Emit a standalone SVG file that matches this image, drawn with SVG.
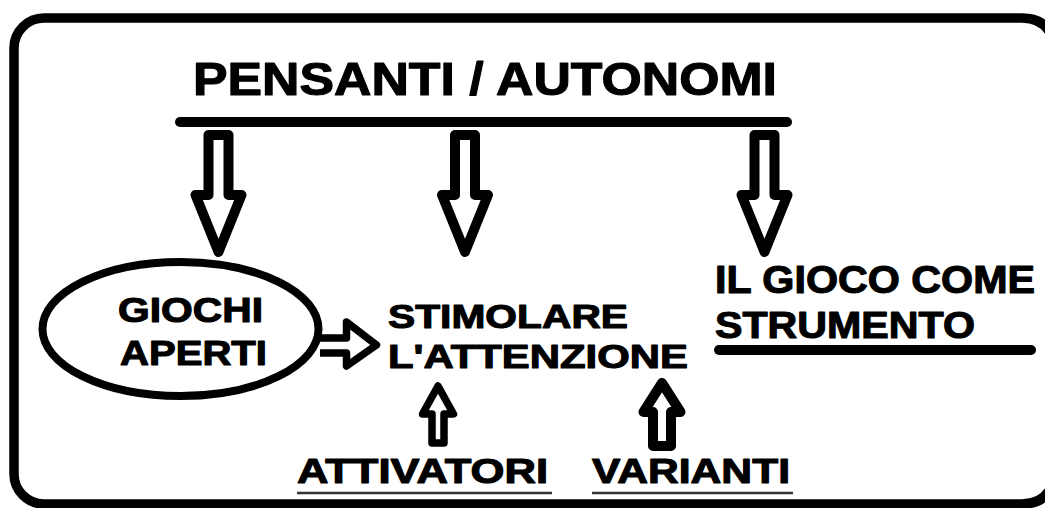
<svg xmlns="http://www.w3.org/2000/svg" width="1045" height="508" viewBox="0 0 1045 508">
<style>
.t{font-family:"Liberation Sans",Arial,sans-serif;font-weight:bold;fill:#000;stroke:#000;stroke-width:1.1;stroke-linejoin:round}
.bar{stroke:#000;stroke-width:10;stroke-linecap:round;fill:none}
.ha{fill:#fff;stroke:#000;stroke-width:10;stroke-linejoin:round}
.sa{fill:#fff;stroke:#000;stroke-width:7.5;stroke-linejoin:round}
.ul{stroke:#333;stroke-width:2.5}
</style>
<rect x="0" y="0" width="1045" height="508" fill="#fff"/>
<path d="M44,18 L1022,18 Q1054,18 1056,56 L1056,466 Q1054,504 1022,504 L44,504 A30,30 0 0 1 14,474 L14,48 A30,30 0 0 1 44,18 Z" fill="#fff" stroke="#000" stroke-width="9.5"/>
<g id="connectors">
<path class="ha" d="M208.5,135 L228.5,135 L228.5,195 L241.5,195 L218.5,252 L195.5,195 L208.5,195 Z"/>
<path class="ha" d="M455,135 L475,135 L475,195 L488,195 L465,252 L442,195 L455,195 Z"/>
<path class="ha" d="M754.5,135 L774.5,135 L774.5,195 L787.5,195 L764.5,252 L741.5,195 L754.5,195 Z"/>
<path class="sa" d="M320,338 L346.5,338 L346.5,322 L376.5,345 L346.5,366 L346.5,353 L320,353"/>
<path class="sa" d="M432,443 L432,414 L422.5,414 L438,386 L453.5,414 L444,414 L444,443 Z"/>
<path class="ha" d="M653,446 L653,412 L643.5,412 L662,383 L680.5,412 L671,412 L671,446 Z"/>
</g>
<g id="title">
<text class="t" x="193" y="95" font-size="46" textLength="584" lengthAdjust="spacingAndGlyphs">PENSANTI / AUTONOMI</text>
<line class="bar" x1="180" y1="122" x2="787" y2="122"/>
</g>
<g id="giochi-aperti">
<ellipse cx="180.5" cy="329" rx="138" ry="67" fill="none" stroke="#000" stroke-width="8"/>
<text class="t" x="118" y="322" font-size="35" textLength="145" lengthAdjust="spacingAndGlyphs">GIOCHI</text>
<text class="t" x="120" y="365" font-size="35" textLength="147" lengthAdjust="spacingAndGlyphs">APERTI</text>
</g>
<g id="stimolare">
<text class="t" x="388" y="328" font-size="34" textLength="240" lengthAdjust="spacingAndGlyphs">STIMOLARE</text>
<text class="t" x="388" y="368" font-size="34" textLength="300" lengthAdjust="spacingAndGlyphs">L'ATTENZIONE</text>
</g>
<g id="gioco-strumento">
<text class="t" x="715" y="293" font-size="38" textLength="320" lengthAdjust="spacingAndGlyphs">IL GIOCO COME</text>
<text class="t" x="715" y="338" font-size="37" textLength="260" lengthAdjust="spacingAndGlyphs">STRUMENTO</text>
<line class="bar" x1="719" y1="350" x2="1031" y2="350"/>
</g>
<g id="attivatori">
<text class="t" x="297" y="483" font-size="35" textLength="251" lengthAdjust="spacingAndGlyphs">ATTIVATORI</text>
<line class="ul" x1="297" y1="493" x2="552" y2="493"/>
</g>
<g id="varianti">
<text class="t" x="592" y="483" font-size="35" textLength="198" lengthAdjust="spacingAndGlyphs">VARIANTI</text>
<line class="ul" x1="592" y1="493" x2="793" y2="493"/>
</g>
</svg>
